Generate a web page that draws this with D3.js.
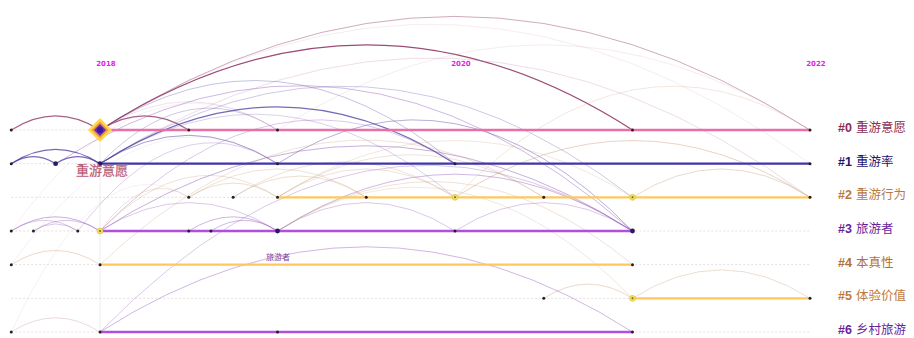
<!DOCTYPE html>
<html><head><meta charset="utf-8">
<script src="https://cdn.jsdelivr.net/npm/d3@7"></script>
<style>body{margin:0;background:#fff}svg{display:block}</style>
</head><body>
<svg id="c" width="914" height="338"></svg>
<script>
// ---- data ----
const tickYears = [2018, 2020, 2022];
const clusterIds = ["#0", "#1", "#2", "#3", "#4", "#5", "#6"];
const clusterNames = ["重游意愿", "重游率", "重游行为", "旅游者", "本真性", "体验价值", "乡村旅游"];
const clusterStart = [2018, 2018, 2019, 2018, 2018, 2021, 2018];
const clusterEnd = [2022, 2022, 2022, 2021, 2021, 2022, 2021];
// nodes: [year, row, kind]  kind 0=small,1=medium,2=yellow,3=hub
const nodes = [
  [2017.5,0,0],[2018,0,3],[2018.5,0,0],[2019,0,0],[2021,0,0],[2022,0,0],
  [2017.5,1,0],[2017.75,1,1],[2018,1,1],[2019,1,0],[2020,1,0],[2022,1,0],
  [2018.5,2,0],[2018.75,2,0],[2019,2,0],[2019.5,2,0],[2020,2,2],[2020.5,2,0],[2021,2,2],[2022,2,0],
  [2017.5,3,0],[2017.625,3,0],[2017.875,3,0],[2018,3,2],[2018.5,3,0],[2018.625,3,0],[2019,3,1],[2020,3,0],[2021,3,1],
  [2017.5,4,0],[2018,4,0],[2021,4,0],
  [2020.5,5,0],[2021,5,2],[2022,5,0],
  [2017.5,6,0],[2018,6,0],[2019,6,0],[2021,6,0]
];
// links: [year1,row1,year2,row2,colorIndex,opacity]
const links = [
  [2017.5,0,2018,0,0,0.75],[2018,0,2018.5,0,0,0.75],[2018,0,2021,0,0,0.85],[2018,0,2022,0,0,0.45],
  [2018,1,2022,2,4,0.35],[2018,0,2022,1,4,0.2],[2019,0,2022,0,4,0.2],
  [2018,1,2019,0,1,0.3],[2018,0,2019,0,4,0.3],[2018,0,2020,1,1,0.35],
  [2018,1,2020,1,1,0.75],[2018,1,2019,1,1,0.55],[2017.5,1,2018,1,1,0.75],[2017.5,1,2017.75,1,1,0.75],[2017.75,1,2018,1,1,0.75],
  [2017.75,1,2021,3,3,0.45],[2019,1,2021,3,1,0.45],[2018,1,2021,2,1,0.3],[2018,1,2020,2,1,0.25],
  [2018,3,2021,3,3,0.5],[2019,3,2021,3,3,0.45],[2019,3,2020,3,3,0.35],[2020,3,2021,3,3,0.35],
  [2018,3,2020,1,3,0.35],[2017.875,3,2019,1,3,0.3],
  [2017.5,3,2018,3,3,0.5],[2017.625,3,2018,3,3,0.4],[2017.5,3,2017.875,3,3,0.35],[2017.625,3,2017.875,3,3,0.35],
  [2018.5,3,2019,3,3,0.45],[2018.625,3,2019,3,3,0.45],[2018,3,2019,3,3,0.35],
  [2018,3,2018.5,2,2,0.3],[2018,3,2019,2,2,0.3],
  [2018.5,2,2019,2,2,0.35],[2018.5,2,2019.5,2,2,0.3],[2018.75,2,2019.5,2,2,0.35],[2018.75,2,2020,2,2,0.3],
  [2019,2,2020,2,2,0.3],[2019,2,2020.5,2,2,0.3],[2019,2,2021,2,2,0.25],
  [2020,2,2022,2,2,0.45],[2021,2,2022,2,2,0.4],[2020,2,2022,0,2,0.25],
  [2019,3,2021,4,2,0.3],[2018,4,2020.5,2,2,0.3],[2017.5,4,2018,4,2,0.4],
  [2018,6,2021,6,3,0.45],[2018,6,2021,3,3,0.35],[2017.5,6,2018,6,4,0.4],
  [2020.5,5,2021,5,2,0.4],[2021,5,2022,5,2,0.35],[2019,3,2021,5,2,0.25],
  [2017.5,4,2019,1,4,0.15],[2017.5,3,2019,0,4,0.15],[2017.5,6,2018.5,2,4,0.15]
];
const linkColors = ["#8a2c5c", "#4a3a9c", "#c4946c", "#8a4cb4", "#c892b0"];
const lineColors = ["#e96fa9", "#3f35a8", "#ffc85e", "#b04ee0", "#ffc85e", "#ffc85e", "#b04ee0"];
const labelColors = ["#8e2c55", "#1d1570", "#b87a40", "#6a1f9a", "#b0703c", "#c07a3c", "#6a1f9a"];

// ---- chart ----
const svg = d3.select("#c");
const x = d3.scaleLinear().domain([2018, 2022]).range([100, 810]);
const y = d3.scaleLinear().domain([0, 6]).range([130, 332]);

// year labels
svg.selectAll("text.yr").data(tickYears).join("text")
  .attr("x", d => x(d) + 6).attr("y", 66)
  .attr("text-anchor", "middle").attr("font-family", "DejaVu Sans, sans-serif")
  .attr("font-size", 7).attr("font-weight", "bold").attr("fill", "#e01ee6").text(d => d);

// vertical faint line
svg.append("line").attr("x1", x(2018)).attr("x2", x(2018)).attr("y1", y(0)).attr("y2", y(6))
  .attr("stroke", "#ececec").attr("stroke-width", 1);

// faint dotted row lines
svg.selectAll("line.dot").data(clusterIds).join("line")
  .attr("x1", x(2017.5)).attr("x2", x(2022)).attr("y1", (d, i) => y(i)).attr("y2", (d, i) => y(i))
  .attr("stroke", "#e8dede").attr("stroke-width", 1).attr("stroke-dasharray", "2,2");

// links
function arcPath(l) {
  let x1 = x(l[0]), y1 = y(l[1]), x2 = x(l[2]), y2 = y(l[3]);
  const h = 0.16 * Math.abs(x2 - x1);
  const p = d3.path();
  p.moveTo(x1, y1);
  p.quadraticCurveTo((x1 + x2) / 2, Math.min(y1, y2) - 2 * h, x2, y2);
  return p.toString();
}
svg.selectAll("path.lk").data(links).join("path")
  .attr("d", arcPath).attr("fill", "none")
  .attr("stroke", d => linkColors[d[4]]).attr("stroke-opacity", d => d[5])
  .attr("stroke-width", d => d[5] > 0.7 ? 1.2 : 0.9);

// cluster solid lines
svg.selectAll("line.cl").data(clusterIds).join("line")
  .attr("x1", (d, i) => x(clusterStart[i])).attr("x2", (d, i) => x(clusterEnd[i]))
  .attr("y1", (d, i) => y(i)).attr("y2", (d, i) => y(i))
  .attr("stroke", (d, i) => lineColors[i]).attr("stroke-width", 2.4);

// nodes
const g = svg.append("g");
nodes.forEach(n => {
  const cx = x(n[0]), cy = y(n[1]);
  if (n[2] === 3) {
    const s = 12;
    g.append("path").attr("d", `M${cx},${cy - s}L${cx + s},${cy}L${cx},${cy + s}L${cx - s},${cy}Z`).attr("fill", "#ffd84a");
    const s2 = 8.5;
    g.append("path").attr("d", `M${cx},${cy - s2}L${cx + s2},${cy}L${cx},${cy + s2}L${cx - s2},${cy}Z`).attr("fill", "#f09a3a");
    const s3 = 6;
    g.append("path").attr("d", `M${cx},${cy - s3}L${cx + s3},${cy}L${cx},${cy + s3}L${cx - s3},${cy}Z`).attr("fill", "#6a2ab8");
    g.append("circle").attr("cx", cx).attr("cy", cy).attr("r", 3).attr("fill", "#3a1a9a");
  } else if (n[2] === 2) {
    g.append("circle").attr("cx", cx).attr("cy", cy).attr("r", 3).attr("fill", "#eee060").attr("stroke", "#d8c040").attr("stroke-width", 0.6);
    g.append("circle").attr("cx", cx).attr("cy", cy).attr("r", 1).attr("fill", "#806020");
  } else if (n[2] === 1) {
    g.append("circle").attr("cx", cx).attr("cy", cy).attr("r", 2.4).attr("fill", "#2a1a60");
  } else {
    g.append("circle").attr("cx", cx).attr("cy", cy).attr("r", 1.5).attr("fill", "#222");
  }
});

// node labels
svg.append("text").attr("x", 102).attr("y", 175).attr("text-anchor", "middle")
  .attr("font-family", "Noto Sans CJK SC").attr("font-size", 13).attr("fill", "#a4405e")
  .attr("stroke", "#d08a9a").attr("stroke-width", 0.3).text(clusterNames[0]);
svg.append("text").attr("x", 278).attr("y", 260).attr("text-anchor", "middle")
  .attr("font-family", "Noto Sans CJK SC").attr("font-size", 8).attr("fill", "#7a3a9a").text(clusterNames[3]);

// cluster labels
const lab = svg.selectAll("text.cl").data(clusterIds).join("text")
  .attr("x", 838).attr("y", (d, i) => y(i) + 2)
  .attr("font-size", 12.5).attr("fill", (d, i) => labelColors[i]);
lab.append("tspan").attr("font-family", "Liberation Sans, Arial").attr("font-weight", "bold").text(d => d);
lab.append("tspan").attr("font-family", "Noto Sans CJK SC").attr("dx", 4).text((d, i) => clusterNames[i]);
</script>
</body></html>
